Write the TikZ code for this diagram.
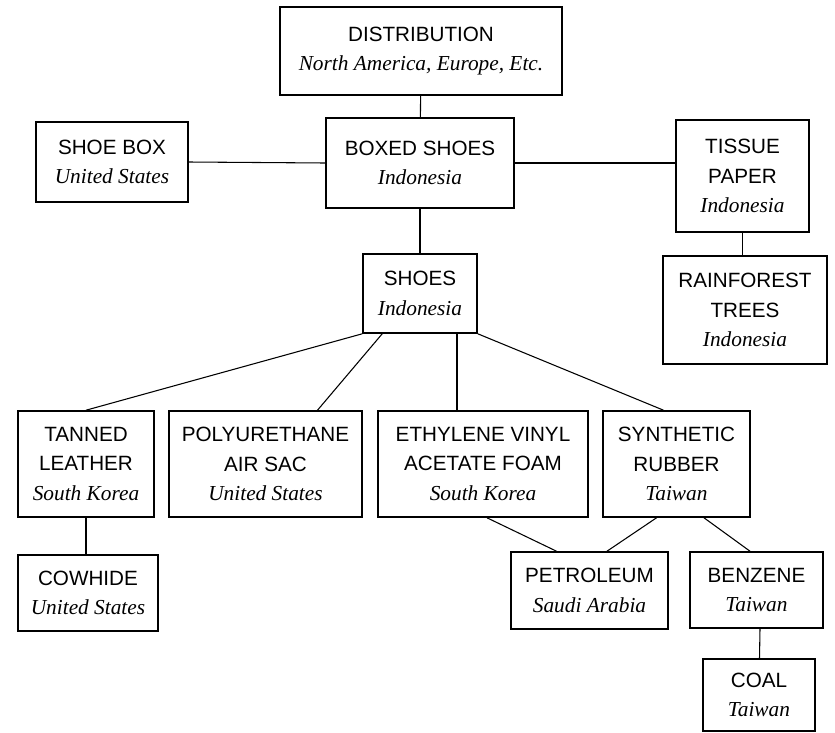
\documentclass[tikz,border=0pt]{standalone}
\usepackage{fontspec}
\setmainfont{Liberation Serif}
\setsansfont{Liberation Sans}
\usetikzlibrary{calc}
\newcommand{\origin}[1]{{\rmfamily\itshape\fontsize{16}{22}\selectfont #1}}
\tikzset{
	part/.style={draw, line width=1.2pt, align=center, inner sep=0pt,
		font=\sffamily\fontsize{15.5}{22}\selectfont},
	boxsize/.style 2 args={minimum width=#1*0.75pt, minimum height=#2*0.75pt},
	link/.style={line width=0.8pt}
}
\begin{document}
\begin{tikzpicture}[x=0.75pt, y=-0.75pt]
			\useasboundingbox (0, 0) rectangle (835, 732);
			\node[part, boxsize={282}{88}] at (421, 51) (dist) {DISTRIBUTION\\\origin{North America, Europe, Etc.}};
			\node[part, boxsize={152}{80}] at (112, 162) (shoebox) {SHOE BOX\\\origin{United States}};
			\node[part, boxsize={188}{90}] at (420, 163) (boxed) {BOXED SHOES\\\origin{Indonesia}};
			\node[part, boxsize={133}{112}] at (742.5, 176) (tissue) {TISSUE\\PAPER\\\origin{Indonesia}};
			\node[part, boxsize={164}{108}] at (745, 310) (trees) {RAINFOREST\\TREES\\\origin{Indonesia}};
			\node[part, boxsize={114}{79}] at (420, 293.5) (shoes) {SHOES\\\origin{Indonesia}};
			\node[part, boxsize={136}{106}] at (86, 464) (leather) {TANNED\\LEATHER\\\origin{South Korea}};
			\node[part, boxsize={193}{106}] at (265.5, 464) (airsac) {POLYURETHANE\\AIR SAC\\\origin{United States}};
			\node[part, boxsize={210}{106}] at (483, 464) (foam) {ETHYLENE VINYL\\ACETATE FOAM\\\origin{South Korea}};
			\node[part, boxsize={147}{106}] at (676.5, 464) (rubber) {SYNTHETIC\\RUBBER\\\origin{Taiwan}};
			\node[part, boxsize={140}{76}] at (88, 593) (cowhide) {COWHIDE\\\origin{United States}};
			\node[part, boxsize={157}{77}] at (589.5, 590.5) (petroleum) {PETROLEUM\\\origin{Saudi Arabia}};
			\node[part, boxsize={133}{76}] at (756.5, 590) (benzene) {BENZENE\\\origin{Taiwan}};
			\node[part, boxsize={112}{72}] at (759, 695) (coal) {COAL\\\origin{Taiwan}};
			% upper part
			\draw [link] (dist) to (boxed);
			\draw [link] (shoebox.east) to (boxed.west);
			\draw [link] (boxed.east) to (boxed.east -| tissue.west);
			\draw [link] (boxed) to (shoes);
			\draw [link] (tissue.south) to (tissue.south |- trees.north);
			% materials
			\draw [link] (shoes.south west) to (leather.north);
			\draw [link] ($(shoes.south west)+(20, 0)$) to ($(airsac.north)+(52, 0)$);
			\draw [link] ($(shoes.south)+(37, 0)$) to ($(foam.north)+(-26, 0)$);
			\draw [link] (shoes.south east) to ($(rubber.north)+(-13, 0)$);
			\draw [link] (leather.south) to (leather.south |- cowhide.north);
			\draw [link] ($(foam.south)+(4, 0)$) to ($(petroleum.north)+(-33, 0)$);
			\draw [link] ($(rubber.south)+(-20, 0)$) to ($(petroleum.north)+(17.5, 0)$);
			\draw [link] ($(rubber.south)+(27.5, 0)$) to ($(benzene.north)+(-6.5, 0)$);
			\draw [link] ($(benzene.south)+(3.5, 0)$) to ($(coal.north)+(0.5, 0)$);
		\end{tikzpicture}
\end{document}
